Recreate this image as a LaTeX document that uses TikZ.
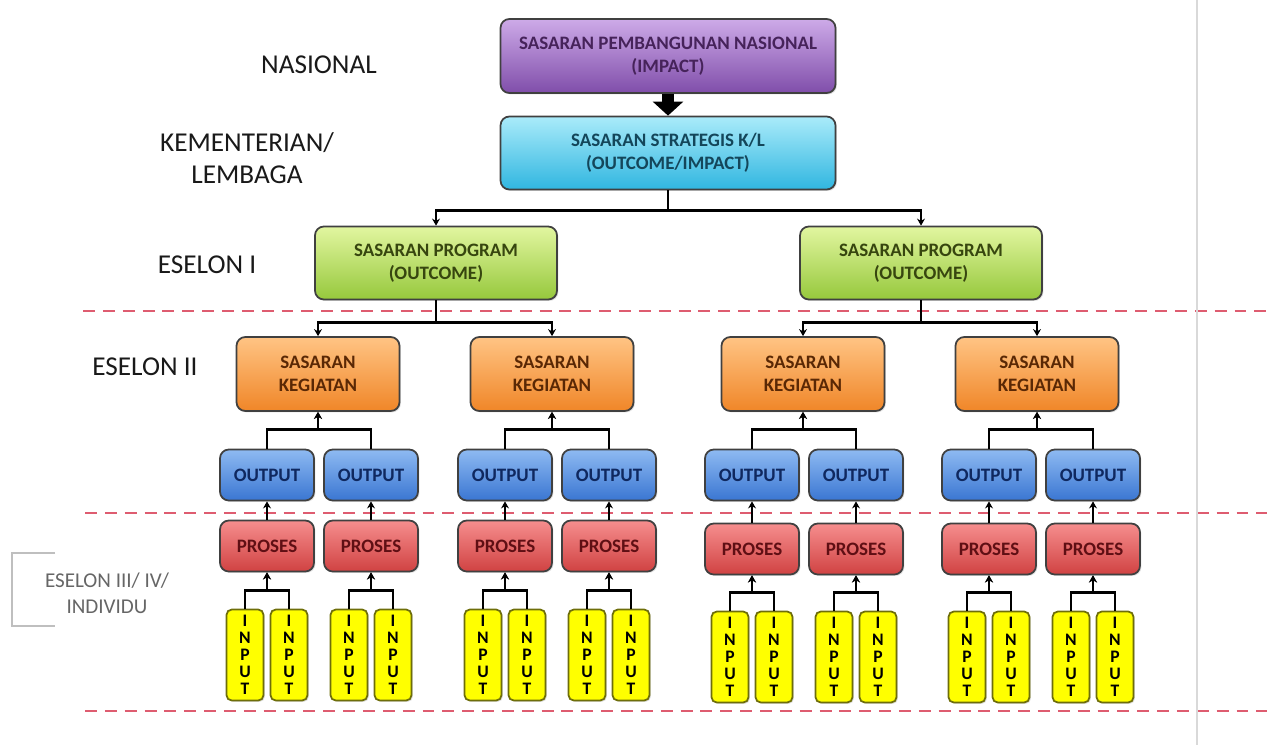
\documentclass[tikz,border=0pt]{standalone}
\usepackage{fontspec}
\setmainfont{Carlito}
\usetikzlibrary{positioning}
\usetikzlibrary{arrows.meta}
\usetikzlibrary{shadows}
\definecolor{nasT}{RGB}{205,170,232}
\definecolor{nasB}{RGB}{128,78,170}
\definecolor{nasX}{RGB}{70,35,90}
\definecolor{klT}{RGB}{170,235,250}
\definecolor{klB}{RGB}{48,182,224}
\definecolor{klX}{RGB}{20,70,90}
\definecolor{prgT}{RGB}{226,246,160}
\definecolor{prgB}{RGB}{150,200,60}
\definecolor{prgX}{RGB}{55,70,15}
\definecolor{kegT}{RGB}{255,196,132}
\definecolor{kegB}{RGB}{240,134,40}
\definecolor{kegX}{RGB}{90,40,5}
\definecolor{outT}{RGB}{142,186,242}
\definecolor{outB}{RGB}{58,118,210}
\definecolor{outX}{RGB}{15,40,95}
\definecolor{proT}{RGB}{246,142,142}
\definecolor{proB}{RGB}{208,66,66}
\definecolor{proX}{RGB}{95,15,20}
\definecolor{inpF}{RGB}{255,255,0}
\definecolor{inpD}{RGB}{110,110,10}
\definecolor{sepline}{RGB}{222,92,112}
\tikzset{
    boxn/.style = {rectangle, rounded corners=5pt, draw=black!75, line width=1pt, align=center, inner sep=2pt, font=\bfseries\fontsize{10.8}{12.8}\selectfont, drop shadow={opacity=0.25,shadow xshift=0.8pt,shadow yshift=-0.8pt}},
    boxnas/.style = {boxn, minimum width=6.7cm, minimum height=1.48cm, top color=nasT, bottom color=nasB, text=nasX},
    boxkl/.style = {boxn, minimum width=6.7cm, minimum height=1.46cm, top color=klT, bottom color=klB, text=klX},
    boxprg/.style = {boxn, minimum width=4.84cm, minimum height=1.46cm, top color=prgT, bottom color=prgB, text=prgX},
    boxkeg/.style = {boxn, minimum width=3.26cm, minimum height=1.48cm, top color=kegT, bottom color=kegB, text=kegX},
    boxout/.style = {boxn, minimum width=1.88cm, minimum height=1.02cm, top color=outT, bottom color=outB, text=outX},
    boxpro/.style = {boxn, minimum width=1.88cm, minimum height=1.02cm, top color=proT, bottom color=proB, text=proX},
    boxinp/.style = {boxn, rounded corners=3pt, minimum width=0.74cm, minimum height=1.82cm, inner sep=0pt, fill=inpF, draw=inpD, text=black, font=\bfseries\fontsize{10}{9.6}\selectfont},
    lvl/.style = {align=center, text=black!90, font=\fontsize{15.5}{18}\selectfont},
    lvlg/.style = {align=center, text=black!60, font=\fontsize{12}{15}\selectfont},
    link/.style = {line width=1.6pt, black},
    linka/.style = {link, -{Stealth[length=4pt,width=4.5pt]}}, % tree arrows
    bigarrow/.style = {line width=7pt, black, -{Triangle[length=8pt,width=17pt]}},
    sep/.style = {sepline, line width=1.1pt, dash pattern=on 6.8pt off 4.5pt}
}

\begin{document}
\begin{tikzpicture}[x=0.02cm,y=-0.02cm]
\useasboundingbox (0,0) rectangle (1267,745);

\draw[sep] (83,311) -- (1267,311);
\draw[sep] (85,513) -- (1267,513);
\draw[sep] (85,711) -- (1267,711);
\draw[black!15, line width=0.8pt] (1197,0) -- (1197,745);
\draw[black!25, line width=0.6pt] (55,553) -| (12,626) -- (55,626);

\node[lvl] at (319, 65) (lnas) {NASIONAL};
\node[lvl] at (247, 158) (lkl) {KEMENTERIAN/\\LEMBAGA};
\node[lvl] at (207, 265) (les1) {ESELON I};
\node[lvl] at (145, 367) (les2) {ESELON II};
\node[lvlg] at (107, 593) (les3) {ESELON III/ IV/\\INDIVIDU};

\node[boxnas] at (668, 56) (nas) {SASARAN PEMBANGUNAN NASIONAL\\(IMPACT)};
\node[boxkl] at (668, 153) (kl) {SASARAN STRATEGIS K/L\\(OUTCOME/IMPACT)};
\node[boxprg] at (436, 263) (prga) {SASARAN PROGRAM\\(OUTCOME)};
\node[boxprg] at (921, 263) (prgb) {SASARAN PROGRAM\\(OUTCOME)};

\node[boxkeg] at (318, 374) (kega) {SASARAN\\KEGIATAN};
\node[boxkeg] at (552, 374) (kegb) {SASARAN\\KEGIATAN};
\node[boxkeg] at (803, 374) (kegc) {SASARAN\\KEGIATAN};
\node[boxkeg] at (1037, 374) (kegd) {SASARAN\\KEGIATAN};

\node[boxout] at (267, 475) (outa) {OUTPUT};
\node[boxout] at (371, 475) (outb) {OUTPUT};
\node[boxout] at (505, 475) (outc) {OUTPUT};
\node[boxout] at (609, 475) (outd) {OUTPUT};
\node[boxout] at (752, 475) (oute) {OUTPUT};
\node[boxout] at (856, 475) (outf) {OUTPUT};
\node[boxout] at (989, 475) (outg) {OUTPUT};
\node[boxout] at (1093, 475) (outh) {OUTPUT};

\node[boxpro] at (267, 546) (proa) {PROSES};
\node[boxpro] at (371, 546) (prob) {PROSES};
\node[boxpro] at (505, 546) (proc) {PROSES};
\node[boxpro] at (609, 546) (prod) {PROSES};
\node[boxpro] at (752, 549) (proe) {PROSES};
\node[boxpro] at (856, 549) (prof) {PROSES};
\node[boxpro] at (989, 549) (prog) {PROSES};
\node[boxpro] at (1093, 549) (proh) {PROSES};

\node[boxinp] at (245, 655) (inpa1) {I\\N\\P\\U\\T};
\node[boxinp] at (289, 655) (inpa2) {I\\N\\P\\U\\T};
\node[boxinp] at (349, 655) (inpb1) {I\\N\\P\\U\\T};
\node[boxinp] at (393, 655) (inpb2) {I\\N\\P\\U\\T};
\node[boxinp] at (483, 655) (inpc1) {I\\N\\P\\U\\T};
\node[boxinp] at (527, 655) (inpc2) {I\\N\\P\\U\\T};
\node[boxinp] at (587, 655) (inpd1) {I\\N\\P\\U\\T};
\node[boxinp] at (631, 655) (inpd2) {I\\N\\P\\U\\T};
\node[boxinp] at (730, 657) (inpe1) {I\\N\\P\\U\\T};
\node[boxinp] at (774, 657) (inpe2) {I\\N\\P\\U\\T};
\node[boxinp] at (834, 657) (inpf1) {I\\N\\P\\U\\T};
\node[boxinp] at (878, 657) (inpf2) {I\\N\\P\\U\\T};
\node[boxinp] at (967, 657) (inpg1) {I\\N\\P\\U\\T};
\node[boxinp] at (1011, 657) (inpg2) {I\\N\\P\\U\\T};
\node[boxinp] at (1071, 657) (inph1) {I\\N\\P\\U\\T};
\node[boxinp] at (1115, 657) (inph2) {I\\N\\P\\U\\T};

\draw[bigarrow] (nas) -- (kl);

\draw[linka] (kl.south) -- ++(0,20) -| (prga.north);
\draw[linka] (kl.south) -- ++(0,20) -| (prgb.north);
\draw[linka] (prga.south) -- ++(0,22) -| (kega.north);
\draw[linka] (prga.south) -- ++(0,22) -| (kegb.north);
\draw[linka] (prgb.south) -- ++(0,22) -| (kegc.north);
\draw[linka] (prgb.south) -- ++(0,22) -| (kegd.north);

\draw[linka] (outa.north) -- ++(0,-19) -| (kega.south);
\draw[linka] (outb.north) -- ++(0,-19) -| (kega.south);
\draw[linka] (outc.north) -- ++(0,-19) -| (kegb.south);
\draw[linka] (outd.north) -- ++(0,-19) -| (kegb.south);
\draw[linka] (oute.north) -- ++(0,-19) -| (kegc.south);
\draw[linka] (outf.north) -- ++(0,-19) -| (kegc.south);
\draw[linka] (outg.north) -- ++(0,-19) -| (kegd.south);
\draw[linka] (outh.north) -- ++(0,-19) -| (kegd.south);

\draw[linka] (proa) -- (outa);
\draw[linka] (prob) -- (outb);
\draw[linka] (proc) -- (outc);
\draw[linka] (prod) -- (outd);
\draw[linka] (proe) -- (oute);
\draw[linka] (prof) -- (outf);
\draw[linka] (prog) -- (outg);
\draw[linka] (proh) -- (outh);

\draw[linka] (inpa1.north) -- ++(0,-18) -| (proa.south);
\draw[linka] (inpa2.north) -- ++(0,-18) -| (proa.south);
\draw[linka] (inpb1.north) -- ++(0,-18) -| (prob.south);
\draw[linka] (inpb2.north) -- ++(0,-18) -| (prob.south);
\draw[linka] (inpc1.north) -- ++(0,-18) -| (proc.south);
\draw[linka] (inpc2.north) -- ++(0,-18) -| (proc.south);
\draw[linka] (inpd1.north) -- ++(0,-18) -| (prod.south);
\draw[linka] (inpd2.north) -- ++(0,-18) -| (prod.south);
\draw[linka] (inpe1.north) -- ++(0,-18) -| (proe.south);
\draw[linka] (inpe2.north) -- ++(0,-18) -| (proe.south);
\draw[linka] (inpf1.north) -- ++(0,-18) -| (prof.south);
\draw[linka] (inpf2.north) -- ++(0,-18) -| (prof.south);
\draw[linka] (inpg1.north) -- ++(0,-18) -| (prog.south);
\draw[linka] (inpg2.north) -- ++(0,-18) -| (prog.south);
\draw[linka] (inph1.north) -- ++(0,-18) -| (proh.south);
\draw[linka] (inph2.north) -- ++(0,-18) -| (proh.south);
\end{tikzpicture}
\end{document}
